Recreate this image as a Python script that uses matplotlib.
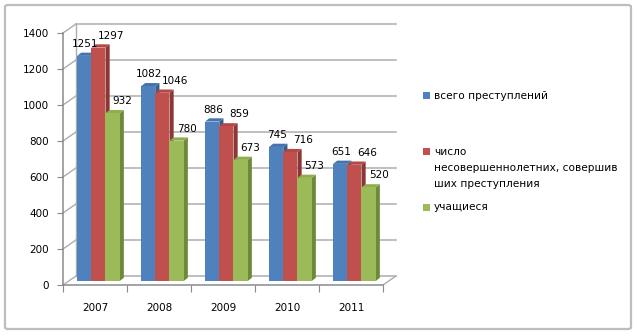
import matplotlib
matplotlib.use("Agg")
import matplotlib.pyplot as plt
from matplotlib.patches import Polygon, Rectangle, FancyBboxPatch

years = ["2007", "2008", "2009", "2010", "2011"]
total_crimes = [1251, 1082, 886, 745, 651]
minors_crimes = [1297, 1046, 859, 716, 646]
students = [932, 780, 673, 573, 520]
series_names = ["всего преступлений",
                "число\nнесовершеннолетних, совершив\nших преступления",
                "учащиеся"]
yticks = [0, 200, 400, 600, 800, 1000, 1200, 1400]

front = ["#4F81BD", "#C0504D", "#9BBB59"]
tops = ["#4573AE", "#B44845", "#8EAE4C"]
sides = ["#375D8C", "#8C3735", "#6D8A3A"]

W, H = 638, 336
fig = plt.figure(figsize=(W / 100, H / 100), dpi=100)
plt.rcParams['font.family'] = ['DejaVu Sans']
fs = 7.5

def fx(x):
    return x / W

def fy(y):
    return 1 - y / H

# outer frame
fig.patches.append(FancyBboxPatch((fx(5), fy(329)), fx(626), 324 / H,
                                  boxstyle="round,pad=0,rounding_size=0.005",
                                  transform=fig.transFigure, fill=False,
                                  edgecolor="#BDBDBD", lw=1.6))

ax = fig.add_axes([fx(63), fy(285), 320 / W, 252 / H])
ax.set_xlim(-0.5, 4.5)
ax.set_ylim(0, 1400)
ax.patch.set_visible(False)

# depth of the 3d box (category units / value units)
bdx, bdy = 13 / 64, 50
grid_c = "#ADADAD"
for t in yticks:
    ax.plot([-0.5, -0.5 + bdx], [t, t + bdy], color=grid_c, lw=1, clip_on=False, zorder=1)
    ax.plot([-0.5 + bdx, 4.5 + bdx], [t + bdy, t + bdy], color=grid_c, lw=1.1, clip_on=False, zorder=1)
ax.plot([-0.5 + bdx, -0.5 + bdx], [bdy, 1400 + bdy], color=grid_c, lw=1, clip_on=False, zorder=1)
ax.plot([4.5, 4.5 + bdx], [0, bdy], color=grid_c, lw=1, clip_on=False, zorder=1)

# bars
w = 0.222
lefts = [-0.28, -0.058, 0.164]
base = 22
sdx, sdy = 0.065, 18
label_dx = [1, 13, 10]
data = [total_crimes, minors_crimes, students]
for i in range(len(years)):
    for s in range(3):
        v = data[s][i]
        x0 = i + lefts[s]
        x1 = x0 + w
        top = base + v
        ax.add_patch(Polygon([(x1, base), (x1 + sdx, base + sdy), (x1 + sdx, top + sdy), (x1, top)],
                             closed=True, facecolor=sides[s], edgecolor="none", zorder=3, clip_on=False))
        ax.add_patch(Polygon([(x0, top), (x0 + sdx, top + sdy), (x1 + sdx, top + sdy), (x1, top)],
                             closed=True, facecolor=tops[s], edgecolor="none", zorder=3, clip_on=False))
        ax.add_patch(Rectangle((x0, base), w, v, facecolor=front[s], edgecolor="none",
                               zorder=3, clip_on=False))
        ax.annotate(str(v), xy=(x0 + w / 2, top), xytext=(label_dx[s], 12),
                    textcoords="offset pixels", ha="center", va="center",
                    fontsize=fs, zorder=5, annotation_clip=False)

# axes
for sp in ["top", "right"]:
    ax.spines[sp].set_visible(False)
for sp in ["left", "bottom"]:
    ax.spines[sp].set_color("#8A8A8A")
    ax.spines[sp].set_linewidth(1.1)
ax.set_yticks(yticks)
ax.set_yticklabels([str(t) for t in yticks], fontsize=fs)
ax.tick_params(axis="y", direction="out", length=4, color="#8A8A8A", pad=6)
ax.set_xticks([-0.5, 0.5, 1.5, 2.5, 3.5, 4.5])
ax.set_xticklabels([])
ax.set_xticks(range(len(years)), minor=True)
ax.set_xticklabels(years, minor=True, fontsize=fs)
ax.tick_params(axis="x", which="major", direction="out", length=5, color="#8A8A8A")
ax.tick_params(axis="x", which="minor", length=0, pad=13)

# legend
leg_y = [96, 152, 207]
text_y = [96, 168, 207]
for s in range(3):
    fig.patches.append(Rectangle((fx(423), fy(leg_y[s]) - 3.5 / H),
                                 6.5 / W, 7 / H, transform=fig.transFigure,
                                 facecolor=front[s], edgecolor="none"))
    fig.text(fx(434), fy(text_y[s]), series_names[s], fontsize=7.6, va="center", ha="left",
             linespacing=1.75)

fig.savefig("out.png", dpi=100)
